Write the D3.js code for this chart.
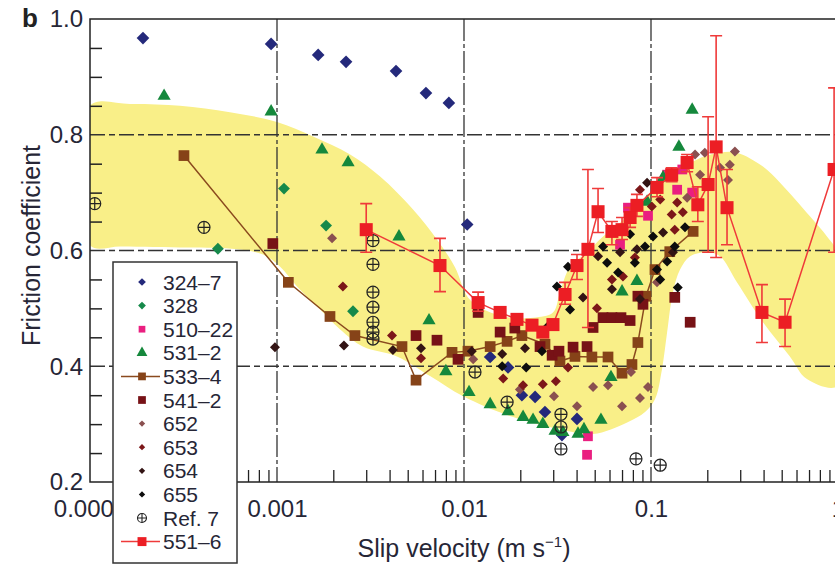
<!DOCTYPE html>
<html>
<head>
<meta charset="utf-8">
<script src="https://cdn.jsdelivr.net/npm/d3@7/dist/d3.min.js"></script>
<style>
    body { margin: 0; background: #fff; }
    svg { display: block; font-family: "Liberation Sans", Arial, Helvetica, sans-serif; }
</style>
</head>
<body>
<div id="chart"></div>
<script>
const WIDTH = 835;
const HEIGHT = 568;

// axis ticks
const xTicks = [0.0001, 0.001, 0.01, 0.1, 1];
const xTickLabels = ["0.0001", "0.001", "0.01", "0.1", "1"];
const yTicks = [0.2, 0.4, 0.6, 0.8, 1.0];
const yTickLabels = ["0.2", "0.4", "0.6", "0.8", "1.0"];
const xGrid = [0.001, 0.01, 0.1];
const yGrid = [0.4, 0.6, 0.8];

// yellow envelope (slip velocity, friction), traced clockwise
const band = [
    [1e-4, 0.850], [1.64e-4, 0.853], [3.03e-4, 0.850], [5.6e-4, 0.839], [1.0e-3, 0.822],
    [1.56e-3, 0.797], [2.46e-3, 0.766], [3.56e-3, 0.728], [5.34e-3, 0.671], [7.17e-3, 0.619],
    [8.95e-3, 0.571], [0.0105, 0.519], [0.0129, 0.497], [0.0176, 0.484], [0.0234, 0.484],
    [0.0299, 0.493], [0.0326, 0.528], [0.0369, 0.572], [0.0455, 0.597], [0.0554, 0.624],
    [0.0683, 0.648], [0.0841, 0.676], [0.1025, 0.705], [0.126, 0.728], [0.156, 0.748],
    [0.190, 0.762], [0.234, 0.769], [0.288, 0.769], [0.397, 0.745], [0.490, 0.717],
    [0.708, 0.659], [0.873, 0.624], [1.0, 0.593], [1.0, 0.366],
    [0.682, 0.378], [0.553, 0.417], [0.397, 0.476], [0.288, 0.545], [0.234, 0.590],
    [0.199, 0.597], [0.162, 0.590], [0.143, 0.567], [0.131, 0.528], [0.122, 0.459],
    [0.1145, 0.395], [0.105, 0.343], [0.0929, 0.321], [0.0745, 0.303], [0.049, 0.283],
    [0.0326, 0.291], [0.0176, 0.314], [0.0099, 0.348], [6.58e-3, 0.383], [4.38e-3, 0.417],
    [2.88e-3, 0.434], [2.17e-3, 0.464], [1.70e-3, 0.498], [1.28e-3, 0.538], [1.04e-3, 0.572],
    [8.42e-4, 0.593], [6.11e-4, 0.602], [3.34e-4, 0.605], [1.47e-4, 0.607], [1e-4, 0.609]
];

// series: [slip velocity (m/s), friction coefficient]
const s324_7 = [
    [1.92e-4, 0.967], [9.3e-4, 0.957], [1.66e-3, 0.938], [2.34e-3, 0.926], [4.33e-3, 0.910],
    [6.26e-3, 0.872], [8.3e-3, 0.855], [0.0104, 0.645], [0.0138, 0.416], [0.0172, 0.398],
    [0.0204, 0.350], [0.024, 0.347], [0.0271, 0.321], [0.0334, 0.281], [0.0402, 0.309]
];
const s328 = [
    [4.83e-4, 0.603], [1.09e-3, 0.707], [1.83e-3, 0.643], [2.55e-3, 0.495]
];
const s510_22 = [
    [0.046, 0.279], [0.0455, 0.247], [0.0683, 0.610], [0.0753, 0.674], [0.0964, 0.660],
    [0.122, 0.731], [0.138, 0.705], [0.166, 0.700], [0.147, 0.740]
];
const s531_2 = [
    [2.49e-4, 0.867], [9.3e-4, 0.840], [1.74e-3, 0.774], [2.4e-3, 0.752], [4.49e-3, 0.624],
    [6.5e-3, 0.479], [8.0e-3, 0.391], [0.01064, 0.355], [0.0138, 0.334], [0.0172, 0.322],
    [0.0207, 0.312], [0.0234, 0.307], [0.0264, 0.300], [0.0307, 0.288], [0.0338, 0.286],
    [0.0407, 0.283], [0.0438, 0.291], [0.054, 0.307], [0.0611, 0.381], [0.070, 0.529],
    [0.0841, 0.547], [0.0953, 0.684], [0.116, 0.726], [0.141, 0.779], [0.166, 0.843]
];
const s533_4 = [
    [3.18e-4, 0.764], [1.15e-3, 0.545], [1.92e-3, 0.486], [2.61e-3, 0.453], [4.66e-3, 0.434],
    [5.54e-3, 0.376], [8.63e-3, 0.424], [0.0105, 0.426], [0.0138, 0.434], [0.0170, 0.443],
    [0.0204, 0.453], [0.0271, 0.438], [0.0326, 0.409], [0.0392, 0.417], [0.0483, 0.416],
    [0.0589, 0.416], [0.070, 0.388], [0.0791, 0.403], [0.0851, 0.441], [0.094, 0.521],
    [0.105, 0.567], [0.126, 0.598], [0.168, 0.633]
];
const s541_2 = [
    [9.5e-4, 0.612], [5.54e-3, 0.453], [7.17e-3, 0.445], [9.29e-3, 0.412], [0.0119, 0.493],
    [0.0156, 0.459], [0.0187, 0.466], [0.0255, 0.434], [0.0296, 0.419], [0.0322, 0.426],
    [0.0383, 0.433], [0.0455, 0.434], [0.049, 0.467], [0.0554, 0.484], [0.0618, 0.484],
    [0.0691, 0.484], [0.0773, 0.479], [0.0851, 0.521], [0.0906, 0.507], [0.134, 0.519],
    [0.162, 0.476]
];
const s652 = [
    [1.97e-3, 0.621], [0.0112, 0.412], [0.0199, 0.360], [0.0303, 0.348], [0.0402, 0.331],
    [0.049, 0.364], [0.0589, 0.367], [0.070, 0.331], [0.0782, 0.390], [0.0873, 0.345],
    [0.0964, 0.364], [0.1077, 0.545], [0.156, 0.691], [0.172, 0.766], [0.194, 0.769],
    [0.183, 0.731], [0.234, 0.743], [0.258, 0.722], [0.264, 0.748], [0.281, 0.771]
];
const s653 = [
    [2.25e-3, 0.538], [4.12e-3, 0.453], [5.89e-3, 0.414], [0.0162, 0.379], [0.0207, 0.367],
    [0.0264, 0.369], [0.031, 0.374], [0.036, 0.398], [0.0514, 0.500], [0.0618, 0.550],
    [0.0708, 0.555], [0.082, 0.588], [0.0873, 0.705], [0.101, 0.676], [0.112, 0.688],
    [0.129, 0.662], [0.138, 0.683], [0.148, 0.666], [0.134, 0.636]
];
const s654 = [
    [9.75e-4, 0.433], [2.28e-3, 0.436], [4.17e-3, 0.428], [5.89e-3, 0.431], [0.011, 0.426],
    [0.016, 0.421], [0.0212, 0.431], [0.0433, 0.519], [0.0521, 0.590], [0.0683, 0.597],
    [0.0841, 0.602], [0.0953, 0.717], [0.116, 0.631], [0.131, 0.597], [0.0873, 0.516],
    [0.0618, 0.533]
];
const s655 = [
    [0.016, 0.400], [0.0215, 0.398], [0.0261, 0.426], [0.0281, 0.469], [0.0314, 0.538],
    [0.036, 0.572], [0.0369, 0.498], [0.0554, 0.607], [0.0582, 0.579], [0.0667, 0.562],
    [0.0773, 0.628], [0.082, 0.579], [0.0929, 0.607], [0.1025, 0.624], [0.1077, 0.567],
    [0.112, 0.550], [0.122, 0.581], [0.134, 0.607], [0.152, 0.640], [0.139, 0.536]
];
const ref7 = [
    [1.06e-4, 0.681], [4.07e-4, 0.640], [3.26e-3, 0.617], [3.26e-3, 0.576], [3.26e-3, 0.528],
    [3.26e-3, 0.502], [3.26e-3, 0.476], [3.26e-3, 0.459], [3.26e-3, 0.447], [0.01145, 0.390],
    [0.0170, 0.338], [0.033, 0.317], [0.033, 0.295], [0.033, 0.257], [0.0831, 0.240],
    [0.112, 0.229]
];
// 551-6: [velocity, friction, lower, upper]
const s551_6 = [
    [0.003, 0.636, 0.597, 0.681], [7.44e-3, 0.574, 0.529, 0.621], [0.0119, 0.510, 0.495, 0.528],
    [0.0156, 0.493, 0.493, 0.493], [0.0192, 0.481, 0.481, 0.481], [0.0231, 0.471, 0.471, 0.471],
    [0.0264, 0.459, 0.459, 0.459], [0.0299, 0.472, 0.472, 0.472], [0.0347, 0.524, 0.507, 0.545],
    [0.0402, 0.574, 0.550, 0.593], [0.046, 0.602, 0.467, 0.740], [0.0521, 0.667, 0.631, 0.707],
    [0.0618, 0.633, 0.610, 0.650], [0.070, 0.636, 0.619, 0.657], [0.0773, 0.657, 0.640, 0.674],
    [0.0841, 0.678, 0.659, 0.697], [0.1077, 0.709, 0.693, 0.726], [0.129, 0.731, 0.719, 0.743],
    [0.156, 0.752, 0.736, 0.766], [0.178, 0.679, 0.650, 0.710], [0.202, 0.714, 0.597, 0.831],
    [0.223, 0.779, 0.588, 0.971], [0.255, 0.674, 0.610, 0.740], [0.392, 0.493, 0.441, 0.541],
    [0.521, 0.476, 0.434, 0.516], [0.953, 0.740, 0.597, 0.881]
];

const legendNames = ["324\u20137", "328", "510\u201322", "531\u20132", "533\u20134", "541\u20132",
    "652", "653", "654", "655", "Ref. 7", "551\u20136"];

const svg = d3.select("#chart").append("svg")
    .attr("width", WIDTH)
    .attr("height", HEIGHT);

const x = d3.scaleLog().domain([1e-4, 1]).range([90, 838]);
const y = d3.scaleLinear().domain([0.2, 1]).range([482, 19]);

svg.append("clipPath").attr("id", "plot")
    .append("rect")
    .attr("x", x.range()[0]).attr("y", y.range()[1])
    .attr("width", x.range()[1] - x.range()[0])
    .attr("height", y.range()[0] - y.range()[1]);

const plot = svg.append("g").attr("clip-path", "url(#plot)");

// envelope
plot.append("path")
    .datum(band)
    .attr("d", d3.line().x(d => x(d[0])).y(d => y(d[1])).curve(d3.curveCatmullRomClosed.alpha(0.5)))
    .attr("fill", "#f9ef88");

// grid
plot.selectAll(".hgrid").data(yGrid).enter().append("line")
    .attr("x1", x.range()[0]).attr("x2", x.range()[1])
    .attr("y1", d => y(d)).attr("y2", d => y(d))
    .attr("stroke", "#333").attr("stroke-width", 1.4)
    .attr("stroke-dasharray", "15,4,6,4");

plot.selectAll(".vgrid").data(xGrid).enter().append("line")
    .attr("x1", d => x(d)).attr("x2", d => x(d))
    .attr("y1", y.range()[1]).attr("y2", y.range()[0])
    .attr("stroke", "#333").attr("stroke-width", 1.3)
    .attr("stroke-dasharray", "22,3,4,3");

// markers
const diamond = s => d3.symbol(d3.symbolSquare, s)();
const square = s => d3.symbol(d3.symbolSquare, s)();
const triangle = s => d3.symbol(d3.symbolTriangle, s)();

function drawPoints(data, path, color, rotate) {
    plot.append("g").selectAll("path").data(data).enter().append("path")
        .attr("d", path)
        .attr("transform", d => "translate(" + x(d[0]) + "," + y(d[1]) + ")" + (rotate ? " rotate(45)" : ""))
        .attr("fill", color);
}

function drawLine(data, color, width) {
    plot.append("path").datum(data)
        .attr("d", d3.line().x(d => x(d[0])).y(d => y(d[1])))
        .attr("fill", "none").attr("stroke", color).attr("stroke-width", width);
}

drawPoints(s324_7, diamond(80), "#24297b", true);
drawPoints(s328, diamond(70), "#16894a", true);
drawPoints(s510_22, square(95), "#ea1f80", false);
drawPoints(s531_2, triangle(75), "#15883c", false);
drawLine(s533_4, "#8a4a1e", 1.5);
drawPoints(s533_4, square(115), "#864318", false);
drawPoints(s541_2, square(115), "#771216", false);
drawPoints(s652, diamond(50), "#8a5050", true);
drawPoints(s653, diamond(50), "#7c1719", true);
drawPoints(s654, diamond(50), "#331414", true);
drawPoints(s655, diamond(50), "#0d0d0d", true);

// Ref. 7: circled plus
const refG = plot.append("g").selectAll("g").data(ref7).enter().append("g")
    .attr("transform", d => "translate(" + x(d[0]) + "," + y(d[1]) + ")")
    .attr("stroke", "#222").attr("stroke-width", 1.2).attr("fill", "none");
refG.append("circle").attr("r", 6);
refG.append("path").attr("d", "M-6,0H6M0,-6V6");

// 551-6 with error bars
drawLine(s551_6, "#ef3a3a", 1.5);
const err = plot.append("g").attr("stroke", "#ef3a3a").attr("stroke-width", 1.6);
const withErr = s551_6.filter(d => d[3] - d[2] > 0.001);
err.selectAll(".bar").data(withErr).enter().append("path")
    .attr("d", d => {
        const cx = x(d[0]), lo = y(d[2]), hi = y(d[3]);
        return "M" + cx + "," + lo + "V" + hi +
            "M" + (cx - 6) + "," + lo + "H" + (cx + 6) +
            "M" + (cx - 6) + "," + hi + "H" + (cx + 6);
    });
drawPoints(s551_6, square(170), "#ec1e24", false);

// axes frame
const frame = svg.append("g").attr("stroke", "#222").attr("stroke-width", 1.5).attr("fill", "none");
frame.append("path")
    .attr("d", "M" + x.range()[1] + "," + y.range()[1] + "H" + x.range()[0] + "V" + y.range()[0] + "H" + x.range()[1]);

// minor ticks
const yMinor = d3.range(0.25, 1.0, 0.05).map(d => +d.toFixed(2)).filter(d => yGrid.indexOf(d) < 0);
const yMinorAxis = d3.axisRight(y).tickValues(yMinor).tickSize(12).tickFormat("");
svg.append("g").attr("transform", "translate(" + x.range()[0] + ",0)").call(yMinorAxis)
    .call(g => g.select(".domain").remove())
    .selectAll("line").attr("stroke", "#222").attr("stroke-width", 1.5);

const xMinor = [];
[1e-4, 1e-3, 1e-2, 1e-1].forEach(dec => { for (let k = 2; k <= 9; k++) xMinor.push(dec * k); });
const xMinorAxis = d3.axisTop(x).tickValues(xMinor).tickSize(12).tickFormat("");
svg.append("g").attr("transform", "translate(0," + y.range()[0] + ")").call(xMinorAxis)
    .call(g => g.select(".domain").remove())
    .selectAll("line").attr("stroke", "#222").attr("stroke-width", 1.3);

// tick labels
const yAxis = d3.axisLeft(y).tickValues(yTicks).tickSize(0).tickPadding(7)
    .tickFormat((d, i) => yTickLabels[i]);
svg.append("g").attr("transform", "translate(" + x.range()[0] + ",0)").call(yAxis)
    .call(g => g.select(".domain").remove())
    .selectAll("text").attr("font-size", 24).attr("font-family", null).attr("fill", "#262636")
    .attr("dy", "0.33em");

const xAxis = d3.axisBottom(x).tickValues(xTicks).tickSize(0).tickPadding(18)
    .tickFormat((d, i) => xTickLabels[i]);
svg.append("g").attr("transform", "translate(0," + y.range()[0] + ")").call(xAxis)
    .call(g => g.select(".domain").remove())
    .selectAll("text").attr("font-size", 24).attr("font-family", null).attr("fill", "#262636")
    .attr("dy", "0.71em");

// titles
svg.append("text").attr("x", 22).attr("y", 27).attr("font-size", 26).attr("font-weight", "bold")
    .attr("fill", "#222").text("b");

svg.append("text")
    .attr("transform", "translate(40," + (y(0.6) - 5) + ") rotate(-90)")
    .attr("text-anchor", "middle").attr("font-size", 25).attr("fill", "#262636")
    .text("Friction coefficient");

const xt = svg.append("text").attr("x", x(0.01)).attr("y", 557)
    .attr("text-anchor", "middle").attr("font-size", 25).attr("fill", "#262636");
xt.append("tspan").text("Slip velocity (m s");
xt.append("tspan").attr("font-size", 15).attr("dy", -10).text("\u22121");
xt.append("tspan").attr("dy", 10).text(")");

// legend
const legend = svg.append("g").attr("transform", "translate(113,262)");
legend.append("rect").attr("width", 124).attr("height", 301)
    .attr("fill", "#fff").attr("stroke", "#333").attr("stroke-width", 1.5);

const legendMarks = [
    {d: diamond(30), c: "#24297b", r: true},
    {d: diamond(30), c: "#16894a", r: true},
    {d: square(45), c: "#ea1f80"},
    {d: triangle(50), c: "#15883c"},
    {d: square(60), c: "#864318", line: "#8a4a1e"},
    {d: square(60), c: "#771216"},
    {d: diamond(20), c: "#8a5050", r: true},
    {d: diamond(20), c: "#7c1719", r: true},
    {d: diamond(20), c: "#331414", r: true},
    {d: diamond(20), c: "#0d0d0d", r: true},
    {ref: true},
    {d: square(80), c: "#ec1e24", line: "#ef3a3a"}
];

const rows = legend.selectAll(".row").data(legendNames).enter().append("g")
    .attr("transform", (d, i) => "translate(0," + (20 + i * 23.6) + ")");

rows.each(function (name, i) {
    const g = d3.select(this);
    const m = legendMarks[i];
    if (m.line) {
        g.append("line").attr("x1", 8).attr("x2", 47).attr("stroke", m.line).attr("stroke-width", 1.5);
    }
    if (m.ref) {
        g.append("circle").attr("cx", 29).attr("r", 4.5).attr("fill", "none").attr("stroke", "#222").attr("stroke-width", 1.1);
        g.append("path").attr("d", "M24.5,0H33.5M29,-4.5V4.5").attr("stroke", "#222").attr("stroke-width", 1.1);
    } else {
        g.append("path").attr("d", m.d)
            .attr("transform", "translate(29,0)" + (m.r ? " rotate(45)" : ""))
            .attr("fill", m.c);
    }
    g.append("text").attr("x", 50).attr("dy", "0.36em").attr("font-size", 21)
        .attr("fill", "#262636").text(name);
});
</script>
</body>
</html>
